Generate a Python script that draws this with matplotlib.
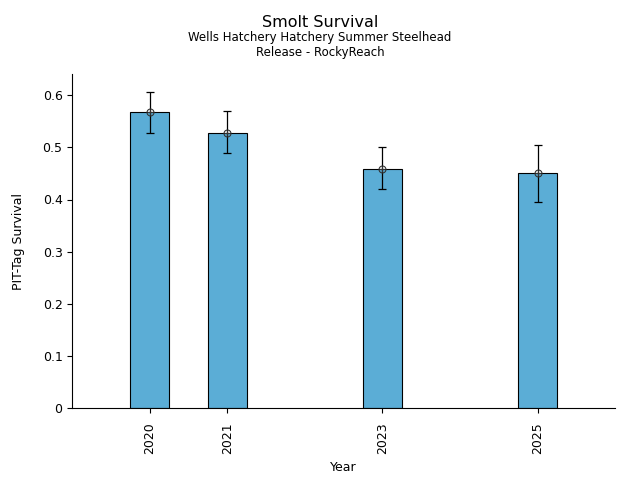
import numpy as np
import matplotlib
matplotlib.use('Agg')
import matplotlib.pyplot as plt

# datos
anios = [2020, 2021, 2023, 2025]
supervivencia = [0.567, 0.528, 0.459, 0.450]
err_sup = [0.606, 0.569, 0.500, 0.504]
err_inf = [0.527, 0.490, 0.421, 0.396]

yerr = [np.array(supervivencia) - np.array(err_inf),
        np.array(err_sup) - np.array(supervivencia)]

fig, ax = plt.subplots(figsize=(6.4, 4.8), dpi=100)

ax.bar(anios, supervivencia, width=0.5, color='#5badd6', edgecolor='black', linewidth=0.8)
ax.errorbar(anios, supervivencia, yerr=yerr, fmt='none', ecolor='black',
            elinewidth=0.9, capsize=3, capthick=0.9)
ax.plot(anios, supervivencia, 'o', mfc='none', mec='#333333', ms=5, mew=0.8)
ax.plot(anios, supervivencia, '+', color='#333333', ms=5, mew=0.8)

ax.set_xlim(2019, 2026)
ax.set_xticks(anios)
ax.set_xticklabels([str(a) for a in anios], rotation=90, fontsize=9)
ax.tick_params(axis='x', pad=7)
ax.tick_params(axis='y', labelsize=9)
ax.set_yticks([0, 0.1, 0.2, 0.3, 0.4, 0.5, 0.6])
ax.set_yticklabels(['0', '0.1', '0.2', '0.3', '0.4', '0.5', '0.6'])
ax.set_ylim(0, 0.64)

ax.spines['top'].set_visible(False)
ax.spines['right'].set_visible(False)

ax.set_xlabel('Year', fontsize=9, labelpad=5)
ax.set_ylabel('PIT-Tag Survival', fontsize=9, labelpad=13)

fig.text(0.5, 0.953, 'Smolt Survival', fontsize=11.5, ha='center', va='center')
fig.text(0.5, 0.906, 'Wells Hatchery Hatchery Summer Steelhead\nRelease - RockyReach',
         fontsize=8.5, ha='center', va='center', linespacing=1.2)

fig.subplots_adjust(left=0.113, right=0.961, top=0.845, bottom=0.15)
fig.savefig('out.png', dpi=100)
